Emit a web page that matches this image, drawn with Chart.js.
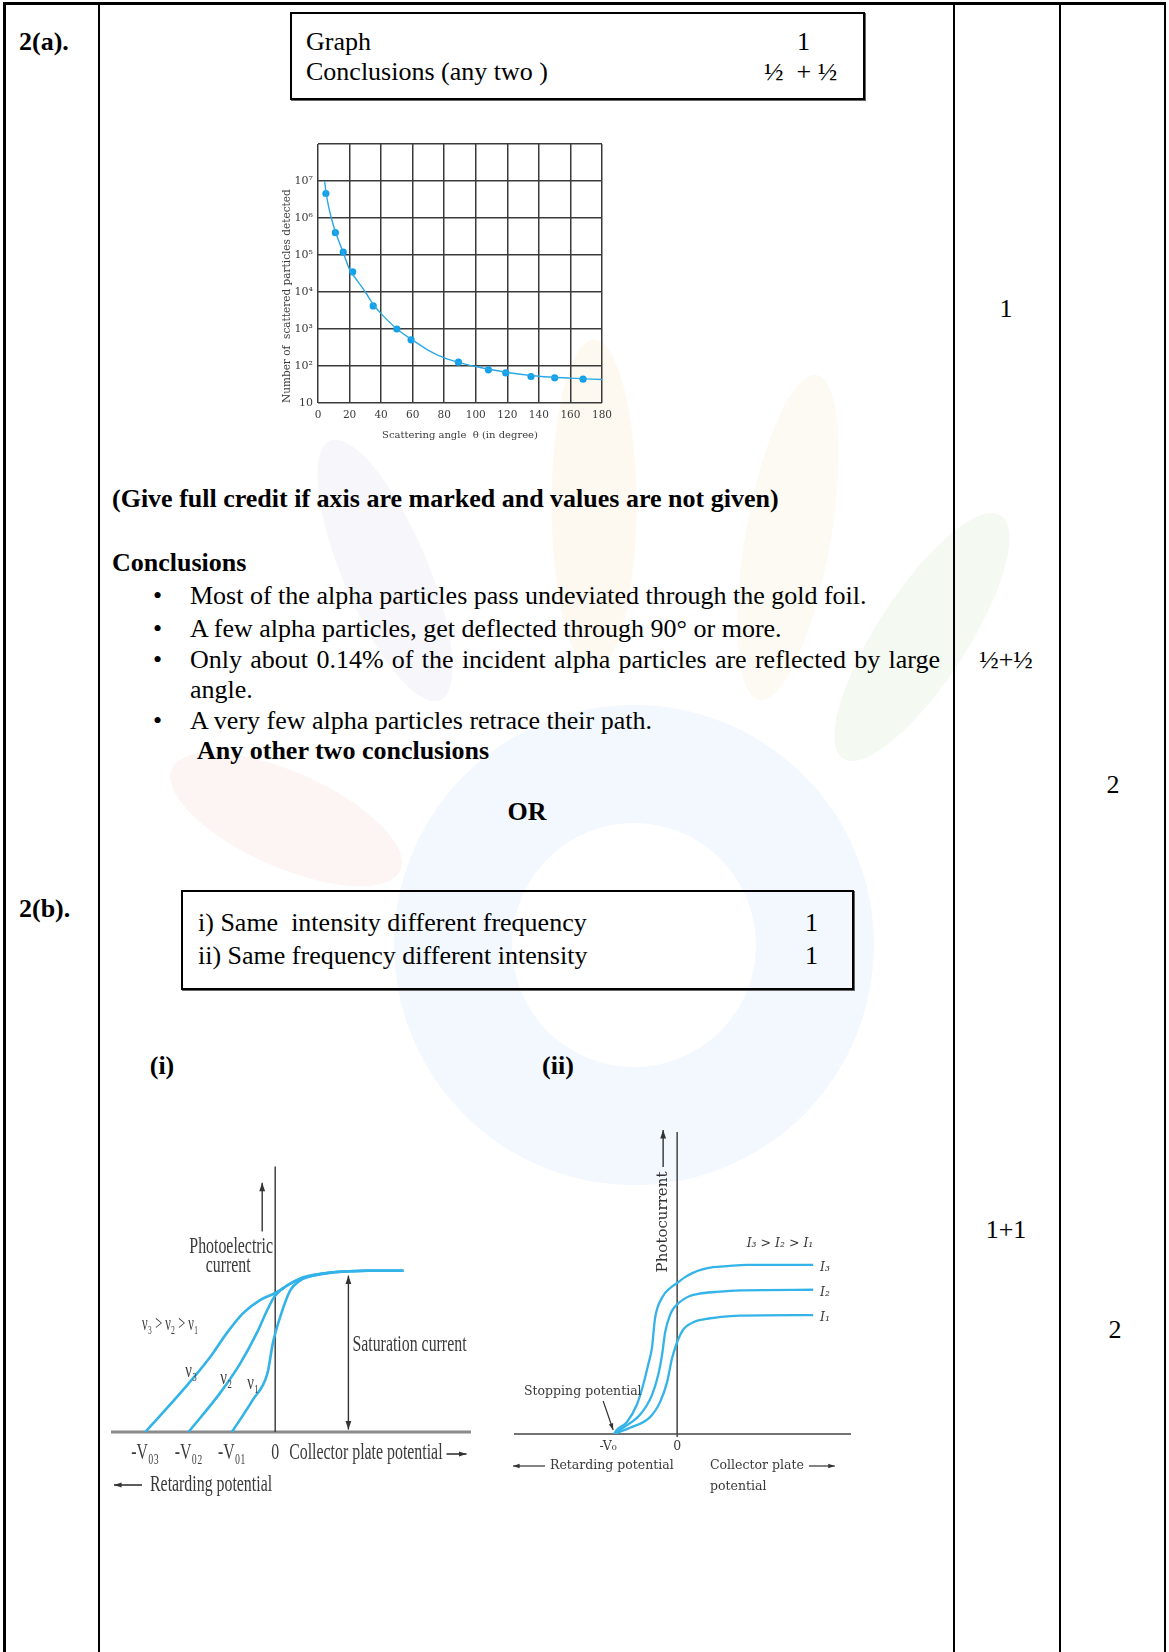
<!DOCTYPE html>
<html>
<head>
<meta charset="utf-8">
<script src="https://cdn.jsdelivr.net/npm/chart.js@4.4.1/dist/chart.umd.min.js"></script>
<style>
  body { margin: 0; background: #fff; }
  #page { position: relative; width: 1169px; height: 1652px; overflow: hidden;
          font-family: "Liberation Serif", "Times New Roman", serif; font-size: 26px; color: #000; }
  .t { position: absolute; white-space: nowrap; line-height: 26px; height: 26px; }
  .b { font-weight: bold; }
  .c { transform: translateX(-50%); }
  .vl { position: absolute; top: 2px; bottom: 0; width: 2px; background: #000; }
  .box { position: absolute; box-sizing: border-box; border: 2px solid #000; box-shadow: 1px 1px 0 #666; }
  .wm { position: absolute; border-radius: 50%; }
  canvas { position: absolute; }
</style>
</head>
<body>
<div id="page">
  <!-- faint watermark behind the content -->
  <div class="wm" style="left:394px;top:705px;width:480px;height:480px;border:118px solid #f2f8fd;box-sizing:border-box"></div>
  <div class="wm" style="left:244px;top:528px;width:282px;height:85px;background:#f7f6fa;transform:rotate(67deg)"></div>
  <div class="wm" style="left:429px;top:462px;width:330px;height:85px;background:#fef9f0;transform:rotate(90deg)"></div>
  <div class="wm" style="left:623px;top:495px;width:330px;height:85px;background:#fcfaf3;transform:rotate(100deg)"></div>
  <div class="wm" style="left:777px;top:592px;width:290px;height:90px;background:#f4f9f2;transform:rotate(123deg)"></div>
  <div class="wm" style="left:161px;top:772px;width:250px;height:95px;background:#fdf4f4;transform:rotate(24deg)"></div>

  <!-- table frame -->
  <div style="position:absolute;left:3px;top:2px;width:1163px;height:3px;background:#000"></div>
  <div class="vl" style="left:3px;width:3px"></div>
  <div class="vl" style="left:98px"></div>
  <div class="vl" style="left:953px"></div>
  <div class="vl" style="left:1059px"></div>
  <div class="vl" style="left:1164px"></div>

  <div class="t b" style="left:19px;top:29px">2(a).</div>
  <div class="box" style="left:290px;top:12px;width:575px;height:88px;background:#fff"></div>
  <div class="t" style="left:306px;top:29px">Graph</div>
  <div class="t" style="left:797px;top:29px">1</div>
  <div class="t" style="left:306px;top:59px">Conclusions (any two )</div>
  <div class="t" style="left:764px;top:59px">½ &nbsp;+ ½</div>
  <div class="t c" style="left:1006px;top:296px">1</div>

  <div class="t b" style="left:112px;top:486px">(Give full credit if axis are marked and values are not given)</div>
  <div class="t b" style="left:112px;top:550px">Conclusions</div>
  <div class="t" style="left:153px;top:583px">•</div>
  <div class="t" style="left:190px;top:583px">Most of the alpha particles pass undeviated through the gold foil.</div>
  <div class="t" style="left:153px;top:616px">•</div>
  <div class="t" style="left:190px;top:616px">A few alpha particles, get deflected through 90° or more.</div>
  <div class="t" style="left:153px;top:647px">•</div>
  <div class="t" style="left:190px;top:647px;width:750px;text-align:justify;text-align-last:justify">Only about 0.14% of the incident alpha particles are reflected by large</div>
  <div class="t" style="left:190px;top:677px">angle.</div>
  <div class="t" style="left:153px;top:708px">•</div>
  <div class="t" style="left:190px;top:708px">A very few alpha particles retrace their path.</div>
  <div class="t b" style="left:197px;top:738px">Any other two conclusions</div>
  <div class="t c" style="left:1006px;top:647px">½+½</div>
  <div class="t c" style="left:1113px;top:772px">2</div>
  <div class="t b c" style="left:527px;top:799px">OR</div>

  <div class="t b" style="left:19px;top:896px">2(b).</div>
  <div class="box" style="left:181px;top:890px;width:673px;height:100px"></div>
  <div class="t" style="left:198px;top:910px">i) Same&nbsp; intensity different frequency</div>
  <div class="t" style="left:805px;top:910px">1</div>
  <div class="t" style="left:198px;top:943px">ii) Same frequency different intensity</div>
  <div class="t" style="left:805px;top:943px">1</div>
  <div class="t b c" style="left:162px;top:1053px">(i)</div>
  <div class="t b c" style="left:558px;top:1053px">(ii)</div>
  <div class="t c" style="left:1006px;top:1217px">1+1</div>
  <div class="t c" style="left:1115px;top:1317px">2</div>

  <canvas id="scatterChart" width="380" height="340" style="left:250px;top:120px;width:380px;height:340px"></canvas>
  <canvas id="freqChart" width="400" height="350" style="left:100px;top:1150px;width:400px;height:350px"></canvas>
  <canvas id="intensityChart" width="370" height="400" style="left:500px;top:1110px;width:370px;height:400px"></canvas>
</div>

<script>
// ---- Rutherford scattering (log scale) ----
const angleTicks = [0, 20, 40, 60, 80, 100, 120, 140, 160, 180];
const countTicks = [10, 100, 1e3, 1e4, 1e5, 1e6, 1e7, 1e8];
const countLabels = ['10', '10²', '10³', '10⁴', '10⁵', '10⁶', '10⁷', ''];
const scatterAngle = [5, 11, 16, 22, 35, 50, 59, 89, 108, 119, 135, 150, 168];
const scatterCount = [4.6e6, 4.0e5, 1.2e5, 3.5e4, 4.2e3, 1.0e3, 510, 127, 79, 65, 52, 48, 44];
const curveAngle = [4.2, 5, 7, 10, 13, 16, 20, 25, 30, 35, 40, 50, 60, 70, 80, 90, 100, 120, 140, 160, 180];
const curveCount = [1e7, 5.2e6, 1.8e6, 5.8e5, 2.5e5, 1.15e5, 4.1e4, 2.0e4, 1.0e4, 4.6e3, 2.6e3, 1.0e3, 500, 265, 165, 122, 97, 67, 53, 47, 43];

// ---- (i) same intensity, different frequency ----
const freqTicks = [-3, -2, -1, 0];
const freqTickLabels = ['-V₀₃', '-V₀₂', '-V₀₁', '0'];
const nu3V = [-3, -2.12, -1.50, -1.11, -0.74, -0.35, -0.02, 0.35, 0.65, 1.34, 2.12, 2.96];
const nu3I = [0, 0.26, 0.46, 0.61, 0.73, 0.81, 0.85, 0.91, 0.95, 0.98, 0.99, 0.99];
const nu2V = [-2, -1.27, -0.81, -0.42, -0.18, -0.02, 0.28, 0.58, 1.34, 2.12, 2.96];
const nu2I = [0, 0.24, 0.42, 0.61, 0.75, 0.83, 0.90, 0.94, 0.98, 0.99, 0.99];
const nu1V = [-1, -0.51, -0.18, -0.05, 0.12, 0.35, 0.58, 0.88, 1.34, 2.12, 2.96];
const nu1I = [0, 0.20, 0.36, 0.55, 0.71, 0.87, 0.93, 0.96, 0.98, 0.99, 0.99];

// ---- (ii) same frequency, different intensity ----
const intTicks = [-1, 0];
const intTickLabels = ['-V₀', '0'];
const i3V = [-1, -0.96, -0.80, -0.64, -0.54, -0.46, -0.40, -0.35, -0.24, -0.10, 0, 0.12, 0.25, 0.40, 0.57, 0.8, 1.11, 2.16];
const i3I = [0, 0.07, 0.21, 0.52, 0.87, 1.23, 1.53, 2.06, 2.42, 2.60, 2.68, 2.78, 2.86, 2.92, 2.96, 2.98, 3.0, 3.0];
const i2V = [-1, -0.86, -0.59, -0.40, -0.30, -0.24, -0.19, -0.11, -0.05, 0.03, 0.10, 0.20, 0.35, 0.60, 1.0, 2.16];
const i2I = [0, 0.11, 0.34, 0.69, 1.05, 1.40, 1.81, 2.12, 2.24, 2.33, 2.39, 2.45, 2.49, 2.52, 2.55, 2.56];
const i1V = [-1, -0.75, -0.43, -0.27, -0.16, -0.08, 0, 0.05, 0.10, 0.17, 0.25, 0.35, 0.50, 0.70, 1.0, 2.16];
const i1I = [0, 0.11, 0.30, 0.57, 0.92, 1.35, 1.63, 1.76, 1.86, 1.93, 1.98, 2.02, 2.05, 2.08, 2.10, 2.11];

const blue = '#33b3e8';
const pts = (xs, ys) => xs.map((x, i) => ({ x: x, y: ys[i] }));

Chart.defaults.font.family = '"DejaVu Serif", serif';
Chart.defaults.animation = false;
Chart.defaults.plugins.legend.display = false;
Chart.defaults.plugins.tooltip.enabled = false;

function arrow(ctx, x1, y1, x2, y2, opt) {
    const o = Object.assign({ color: '#333', width: 1.4, head: 8, both: false }, opt);
    ctx.save();
    ctx.strokeStyle = o.color; ctx.fillStyle = o.color; ctx.lineWidth = o.width;
    ctx.beginPath(); ctx.moveTo(x1, y1); ctx.lineTo(x2, y2); ctx.stroke();
    const ends = o.both ? [[x1, y1, x2, y2], [x2, y2, x1, y1]] : [[x1, y1, x2, y2]];
    ends.forEach(([ax, ay, bx, by]) => {
        const a = Math.atan2(by - ay, bx - ax);
        ctx.beginPath();
        ctx.moveTo(bx, by);
        ctx.lineTo(bx - o.head * Math.cos(a - 0.33), by - o.head * Math.sin(a - 0.33));
        ctx.lineTo(bx - o.head * Math.cos(a + 0.33), by - o.head * Math.sin(a + 0.33));
        ctx.closePath(); ctx.fill();
    });
    ctx.restore();
}

// draws text, returns its drawn width
function label(ctx, str, x, y, opt) {
    const o = Object.assign({ font: '23px "Liberation Serif"', sx: 1, align: 'left', color: '#3a3a3a', rot: 0 }, opt);
    ctx.save();
    ctx.font = o.font; ctx.fillStyle = o.color;
    ctx.textAlign = o.align; ctx.textBaseline = 'middle';
    ctx.translate(x, y);
    if (o.rot) ctx.rotate(o.rot);
    ctx.scale(o.sx, 1);
    ctx.fillText(str, 0, 0);
    const w = ctx.measureText(str).width * o.sx;
    ctx.restore();
    return w;
}

// ================= Scattering graph =================
new Chart(document.getElementById('scatterChart'), {
    type: 'scatter',
    data: {
        datasets: [{
            type: 'line',
            data: pts(curveAngle, curveCount),
            borderColor: '#2aa8e6',
            borderWidth: 1.4,
            pointRadius: 0,
            cubicInterpolationMode: 'monotone',
            fill: false
        }, {
            data: pts(scatterAngle, scatterCount),
            backgroundColor: '#12a0e8',
            borderWidth: 0,
            pointRadius: 3.6
        }]
    },
    options: {
        responsive: false,
        events: [],
        layout: { padding: { left: 0, right: 28, top: 24, bottom: 0 } },
        scales: {
            x: {
                type: 'linear', min: 0, max: 180,
                afterBuildTicks: s => { s.ticks = angleTicks.map(v => ({ value: v })); },
                afterFit: s => { s.height = 57; },
                ticks: { callback: v => String(v), color: '#3a3a3a', font: { size: 10.5 }, padding: 6, maxRotation: 0, autoSkip: false },
                grid: { color: '#3a3a3a', lineWidth: 1.5, drawTicks: false },
                border: { display: false },
                title: { display: true, text: 'Scattering angle  θ (in degree)', color: '#3a3a3a', font: { size: 10 }, padding: { top: 0, bottom: 19 } }
            },
            y: {
                type: 'logarithmic', min: 10, max: 1e8,
                afterBuildTicks: s => { s.ticks = countTicks.map(v => ({ value: v })); },
                afterFit: s => { s.width = 68; },
                ticks: { callback: (v, i) => countLabels[i], color: '#3a3a3a', font: { size: 11 }, padding: 5, autoSkip: false },
                grid: { color: '#3a3a3a', lineWidth: 1.5, drawTicks: false },
                border: { display: false },
                title: { display: true, text: 'Number of  scattered particles detected', align: 'start', color: '#3a3a3a', font: { size: 10.5 }, padding: { top: 31, bottom: 0 } }
            }
        }
    }
});

// ================= (i) different frequency =================
new Chart(document.getElementById('freqChart'), {
    type: 'line',
    data: {
        datasets: [[nu3V, nu3I], [nu2V, nu2I], [nu1V, nu1I]].map(([v, c]) => ({
            data: pts(v, c),
            borderColor: blue,
            borderWidth: 2.6,
            pointRadius: 0,
            cubicInterpolationMode: 'monotone',
            fill: false
        }))
    },
    options: {
        responsive: false,
        events: [],
        layout: { padding: { left: 11, right: 29, top: 5, bottom: 68 } },
        scales: {
            x: { type: 'linear', min: -3.79, max: 4.52, display: false },
            y: { min: 0, max: 1.7, display: false }
        }
    },
    plugins: [{
        id: 'freqNotes',
        beforeDatasetsDraw(chart) {
            const { ctx, chartArea: a, scales: { x, y } } = chart;
            ctx.save();
            ctx.strokeStyle = '#8a8a8a'; ctx.lineWidth = 3;
            ctx.beginPath(); ctx.moveTo(a.left, y.getPixelForValue(0)); ctx.lineTo(a.right, y.getPixelForValue(0)); ctx.stroke();
            ctx.strokeStyle = '#333'; ctx.lineWidth = 1.4;
            ctx.beginPath(); ctx.moveTo(x.getPixelForValue(0), y.getPixelForValue(1.63)); ctx.lineTo(x.getPixelForValue(0), y.getPixelForValue(0)); ctx.stroke();
            ctx.restore();
        },
        afterDatasetsDraw(chart) {
            const { ctx, scales: { x, y } } = chart;
            const px = v => x.getPixelForValue(v), py = v => y.getPixelForValue(v);
            const x0 = px(0), y0 = py(0);
            const cond = { sx: 0.69 };
            arrow(ctx, px(-0.3), py(1.23), px(-0.3), py(1.53), { head: 9 });
            label(ctx, 'Photoelectric', x0 - 44, 97, Object.assign({ align: 'center' }, cond));
            label(ctx, 'current', x0 - 47, 116, Object.assign({ align: 'center' }, cond));
            label(ctx, 'ν₃ > ν₂ > ν₁', x0 - 105, 175, { sx: 0.62, align: 'center', font: '20px "Liberation Serif"' });
            label(ctx, 'ν₃', x0 - 84, 221, { sx: 0.7, align: 'center', font: '21px "Liberation Serif"' });
            label(ctx, 'ν₂', x0 - 49, 228, { sx: 0.7, align: 'center', font: '21px "Liberation Serif"' });
            label(ctx, 'ν₁', x0 - 22, 233, { sx: 0.7, align: 'center', font: '21px "Liberation Serif"' });
            arrow(ctx, px(1.69), py(0.96), px(1.69), py(0.015), { both: true, head: 9 });
            label(ctx, 'Saturation current', px(1.69) + 4, 195, cond);
            freqTicks.forEach((v, i) => {
                label(ctx, freqTickLabels[i], px(v), y0 + 21, Object.assign({ align: 'center' }, cond));
            });
            const w = label(ctx, 'Collector plate potential', x0 + 14, y0 + 21, cond);
            arrow(ctx, x0 + 18 + w, y0 + 22, x0 + 38 + w, y0 + 22, { head: 8, width: 1.6 });
            arrow(ctx, 42, y0 + 53, 14, y0 + 53, { head: 8, width: 1.6 });
            label(ctx, 'Retarding potential', 50, y0 + 53, cond);
        }
    }]
});

// ================= (ii) different intensity =================
new Chart(document.getElementById('intensityChart'), {
    type: 'line',
    data: {
        datasets: [[i3V, i3I], [i2V, i2I], [i1V, i1I]].map(([v, c]) => ({
            data: pts(v, c),
            borderColor: blue,
            borderWidth: 2.3,
            pointRadius: 0,
            cubicInterpolationMode: 'monotone',
            fill: false
        }))
    },
    options: {
        responsive: false,
        events: [],
        layout: { padding: { left: 14, right: 19, top: 22, bottom: 76 } },
        scales: {
            x: { type: 'linear', min: -2.59, max: 2.76, display: false },
            y: { min: 0, max: 5.36, display: false }
        }
    },
    plugins: [{
        id: 'intNotes',
        beforeDatasetsDraw(chart) {
            const { ctx, chartArea: a, scales: { x, y } } = chart;
            ctx.save();
            ctx.strokeStyle = '#444'; ctx.lineWidth = 1.5;
            ctx.beginPath(); ctx.moveTo(a.left, y.getPixelForValue(0)); ctx.lineTo(a.right, y.getPixelForValue(0)); ctx.stroke();
            ctx.beginPath(); ctx.moveTo(x.getPixelForValue(0), a.top); ctx.lineTo(x.getPixelForValue(0), y.getPixelForValue(0) + 3); ctx.stroke();
            ctx.restore();
        },
        afterDatasetsDraw(chart) {
            const { ctx, scales: { x, y } } = chart;
            const px = v => x.getPixelForValue(v), py = v => y.getPixelForValue(v);
            const x0 = px(0), y0 = py(0);
            const f = '12.5px "DejaVu Serif"';
            arrow(ctx, x0 - 14, 57, x0 - 14, 20, { head: 9, color: '#333' });
            label(ctx, 'Photocurrent', x0 - 14, 112, { font: '15px "DejaVu Serif"', align: 'center', rot: -Math.PI / 2, color: '#333' });
            label(ctx, 'I₃ > I₂ > I₁', 280, py(3.0) - 21, { font: 'italic 12.5px "DejaVu Serif"', align: 'center' });
            label(ctx, 'I₃', 320, py(3.0) + 3, { font: 'italic 12.5px "DejaVu Serif"' });
            label(ctx, 'I₂', 320, py(2.56) + 3, { font: 'italic 12.5px "DejaVu Serif"' });
            label(ctx, 'I₁', 320, py(2.11) + 3, { font: 'italic 12.5px "DejaVu Serif"' });
            label(ctx, 'Stopping potential', 24, y0 - 42, { font: f });
            arrow(ctx, px(-1) - 11, y0 - 33, px(-1) - 1, y0 - 4, { head: 7, width: 1.2 });
            intTicks.forEach((v, i) => {
                label(ctx, intTickLabels[i], px(v) - (v < 0 ? 6 : 0), y0 + 13, { font: f, align: 'center' });
            });
            arrow(ctx, 45, y0 + 32, 13, y0 + 32, { head: 7, width: 1.2 });
            label(ctx, 'Retarding potential', 50, y0 + 32, { font: f });
            const w = label(ctx, 'Collector plate', 210, y0 + 32, { font: f });
            arrow(ctx, 215 + w, y0 + 32, 241 + w, y0 + 32, { head: 7, width: 1.2 });
            label(ctx, 'potential', 210, y0 + 53, { font: f });
        }
    }]
});
</script>
</body>
</html>
